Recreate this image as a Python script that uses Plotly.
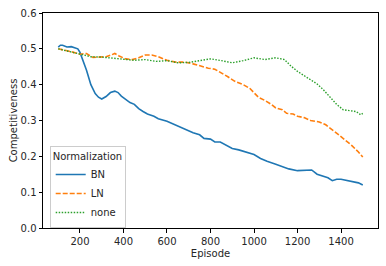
import plotly.graph_objects as go

bn_x = [100, 110, 120, 140, 160, 180, 190, 200, 215, 230, 250, 270, 285, 300, 320, 340, 360, 375, 390, 410, 430, 450, 470, 490, 510, 540, 560, 600, 640, 680, 720, 750, 770, 800, 820, 845, 870, 900, 930, 960, 1000, 1030, 1060, 1100, 1130, 1160, 1200, 1230, 1250, 1265, 1290, 1320, 1340, 1360, 1380, 1400, 1420, 1450, 1480, 1500]
bn_y = [0.505, 0.510, 0.510, 0.505, 0.506, 0.503, 0.500, 0.490, 0.465, 0.440, 0.400, 0.375, 0.365, 0.360, 0.367, 0.378, 0.382, 0.378, 0.368, 0.358, 0.350, 0.345, 0.333, 0.325, 0.318, 0.312, 0.305, 0.298, 0.287, 0.275, 0.266, 0.260, 0.250, 0.248, 0.240, 0.240, 0.232, 0.222, 0.218, 0.212, 0.205, 0.194, 0.186, 0.178, 0.172, 0.165, 0.160, 0.160, 0.162, 0.162, 0.150, 0.143, 0.140, 0.132, 0.136, 0.136, 0.133, 0.130, 0.126, 0.120]

ln_x = [100, 130, 160, 200, 230, 260, 290, 320, 340, 360, 380, 410, 440, 470, 500, 530, 560, 600, 640, 680, 720, 760, 790, 820, 850, 880, 910, 950, 980, 1000, 1020, 1050, 1080, 1100, 1130, 1150, 1180, 1200, 1230, 1260, 1300, 1330, 1360, 1390, 1420, 1450, 1480, 1500]
ln_y = [0.500, 0.497, 0.492, 0.485, 0.487, 0.476, 0.478, 0.478, 0.482, 0.487, 0.480, 0.472, 0.470, 0.475, 0.483, 0.483, 0.478, 0.468, 0.463, 0.463, 0.458, 0.450, 0.446, 0.443, 0.433, 0.422, 0.410, 0.400, 0.390, 0.378, 0.365, 0.356, 0.345, 0.335, 0.330, 0.320, 0.318, 0.312, 0.308, 0.300, 0.296, 0.288, 0.275, 0.260, 0.245, 0.230, 0.212, 0.198]

none_x = [100, 150, 200, 250, 300, 350, 400, 450, 500, 550, 600, 650, 700, 750, 800, 850, 900, 950, 1000, 1050, 1100, 1140, 1170, 1200, 1230, 1260, 1290, 1320, 1350, 1380, 1410, 1440, 1470, 1490, 1500]
none_y = [0.500, 0.492, 0.484, 0.478, 0.477, 0.474, 0.472, 0.468, 0.470, 0.465, 0.467, 0.461, 0.462, 0.466, 0.472, 0.467, 0.461, 0.467, 0.475, 0.470, 0.475, 0.470, 0.452, 0.437, 0.425, 0.413, 0.402, 0.385, 0.365, 0.345, 0.330, 0.327, 0.325, 0.316, 0.320]

x_ticks = [200, 400, 600, 800, 1000, 1200, 1400]
y_ticks = [0.0, 0.1, 0.2, 0.3, 0.4, 0.5, 0.6]

font = "DejaVu Sans"
fig = go.Figure()
fig.add_trace(go.Scatter(x=bn_x, y=bn_y, mode="lines", name="BN",
                         line=dict(color="#1f77b4", width=1.6)))
fig.add_trace(go.Scatter(x=ln_x, y=ln_y, mode="lines", name="LN",
                         line=dict(color="#ff7f0e", width=1.6, dash="5px,2px")))
fig.add_trace(go.Scatter(x=none_x, y=none_y, mode="lines", name="none",
                         line=dict(color="#2ca02c", width=1.4, dash="1.5px,1.5px")))

axis_common = dict(showline=True, linecolor="black", linewidth=1, mirror=True,
                   ticks="outside", ticklen=3.5, tickcolor="black", showgrid=False,
                   zeroline=False, tickfont=dict(family=font, size=10, color="#262626"))
fig.update_xaxes(range=[30, 1570], tickvals=x_ticks,
                 title=dict(text="Episode", font=dict(family=font, size=10, color="#262626"), standoff=4),
                 **axis_common)
fig.update_yaxes(range=[0, 0.6], tickvals=y_ticks, tickformat=".1f",
                 title=dict(text="Competitiveness", font=dict(family=font, size=10, color="#262626"), standoff=1),
                 **axis_common)
fig.update_layout(
    width=386, height=266,
    margin=dict(l=43, r=7, t=11, b=38),
    plot_bgcolor="white", paper_bgcolor="white",
    font=dict(family=font, size=10, color="#262626"),
    legend=dict(title=dict(text="Normalization", font=dict(family=font, size=10)),
                x=0.02, y=0.0, xanchor="left", yanchor="bottom",
                bgcolor="rgba(255,255,255,0.8)", bordercolor="#cccccc", borderwidth=1,
                font=dict(family=font, size=10), tracegroupgap=0, itemwidth=30),
)
fig.write_html("out.html", config={"displayModeBar": False},
               post_script="document.body.style.margin='0px';")
